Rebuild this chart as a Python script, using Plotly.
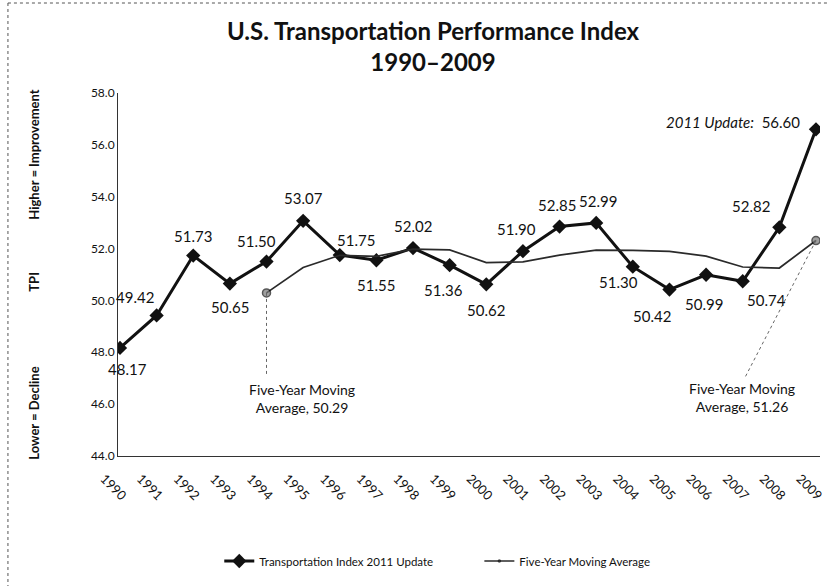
import plotly.graph_objects as go

years = list(range(1990, 2010))
tpi = [48.17, 49.42, 51.73, 50.65, 51.50, 53.07, 51.75, 51.55, 52.02, 51.36,
       50.62, 51.90, 52.85, 52.99, 51.30, 50.42, 50.99, 50.74, 52.82, 56.60]
ma_years = list(range(1994, 2010))
ma = [50.29, 51.27, 51.74, 51.70, 51.98, 51.95, 51.46, 51.49, 51.75, 51.94,
      51.93, 51.89, 51.71, 51.29, 51.25, 52.31]

# pixel offsets (dx, dy) of each value label from its marker (style only)
label_offsets = [(8, -21), (-22, 18), (0, 20), (0, -23), (-10, 21), (0, 23), (16, 15),
                 (0, -25), (0, 22), (-6, -25), (0, -26), (-6, 22), (-3, 22), (2, 22),
                 (-14, -15), (-17, -26), (-2, -29), (24, -19), (-28, 21), None]

FONT = "Lato, Open Sans, sans-serif"
L, R, T, B = 118, 10, 93, 130
W, H = 836, 586
pw, ph = W - L - R, H - T - B

def px_x(px):
    return (px - L) / pw

def px_y(py):
    return (H - B - py) / ph

NB = "\u00a0"
fig = go.Figure()
fig.add_trace(go.Scatter(
    x=years, y=tpi, mode="lines+markers", name="Transportation Index 2011 Update" + NB * 14,
    line=dict(color="#111111", width=3),
    marker=dict(symbol="diamond", size=11, color="#111111"),
))
fig.add_trace(go.Scatter(
    x=ma_years, y=ma, mode="lines+markers", name="Five-Year Moving Average",
    line=dict(color="#2a2a2a", width=1.7),
    marker=dict(symbol="circle", size=[8] + [0] * (len(ma) - 2) + [8],
                color="#777777", line=dict(color="#111111", width=1.5)),
))

annotations = []
for yr, v, off in zip(years, tpi, label_offsets):
    if off is None:
        continue
    dx, dy = off
    annotations.append(dict(x=yr, y=v, text=f"{v:.2f}", showarrow=False,
                            xshift=dx, yshift=dy,
                            font=dict(family=FONT, size=15, color="#111111")))
annotations.append(dict(x=years[-1], y=tpi[-1], text=f"<i>2011 Update:</i>  {tpi[-1]:.2f}",
                        showarrow=False, xanchor="right", xshift=-14, yshift=7,
                        font=dict(family=FONT, size=15, color="#111111")))
annotations.append(dict(x=1994.96, y=46.2, text="Five-Year Moving<br>Average, " + f"{ma[0]:.2f}",
                        showarrow=False, font=dict(family=FONT, size=14, color="#111111")))
annotations.append(dict(x=2006.99, y=46.25, text="Five-Year Moving<br>Average, 51.26",
                        showarrow=False, font=dict(family=FONT, size=14, color="#111111")))
for txt, yy in [("Higher = Improvement", 155), ("TPI", 282), ("Lower = Decline", 413)]:
    annotations.append(dict(x=px_x(33), y=px_y(yy), xref="paper", yref="paper", text=f"<b>{txt}</b>",
                            textangle=-90, showarrow=False, xanchor="center", yanchor="middle",
                            font=dict(family=FONT, size=13, color="#111111")))

shapes = [
    dict(type="line", x0=ma_years[0], x1=ma_years[0], y0=ma[0], y1=47.1,
         line=dict(color="#666666", width=1, dash="dot")),
    dict(type="line", x0=years[-1], x1=2007.07, y0=ma[-1], y1=47.05,
         line=dict(color="#666666", width=1, dash="dot")),
    dict(type="line", xref="paper", yref="paper", x0=px_x(7), x1=px_x(836), y0=px_y(3), y1=px_y(3),
         line=dict(color="#555555", width=1, dash="dot")),
    dict(type="line", xref="paper", yref="paper", x0=px_x(7), x1=px_x(7), y0=px_y(3), y1=px_y(586),
         line=dict(color="#555555", width=1, dash="dot")),
]

fig.update_layout(
    width=W, height=H,
    margin=dict(l=L, r=R, t=T, b=B),
    paper_bgcolor="white", plot_bgcolor="white",
    title=dict(text="<b>U.S. Transportation Performance Index<br>1990–2009</b>",
               x=433 / W, xanchor="center", y=1 - 40 / H, yanchor="middle",
               font=dict(family=FONT, size=24, color="#111111")),
    font=dict(family=FONT, color="#111111"),
    showlegend=True,
    legend=dict(orientation="h", x=px_x(440), xanchor="center", y=px_y(561), yanchor="middle",
                font=dict(family=FONT, size=11.5, color="#111111"), itemwidth=30,
                traceorder="normal"),
    annotations=annotations,
    shapes=shapes,
)
fig.update_xaxes(range=[1989.946, 2009.11], tickmode="array", tickvals=years,
                 ticktext=[str(y) for y in years], tickangle=45, showgrid=False,
                 showline=True, linecolor="#333333", linewidth=1, zeroline=False,
                 ticklabelshift=-16, ticklabelstandoff=9,
                 tickfont=dict(family=FONT, size=13, color="#111111"))
fig.update_yaxes(range=[44, 58], dtick=2, tickformat=".1f", showgrid=False,
                 showline=True, linecolor="#333333", linewidth=1, zeroline=False,
                 ticks="", tickfont=dict(family=FONT, size=12, color="#111111"))

fig.write_html("out.html", post_script="document.body.style.margin='0';",
               config={"displayModeBar": False})
